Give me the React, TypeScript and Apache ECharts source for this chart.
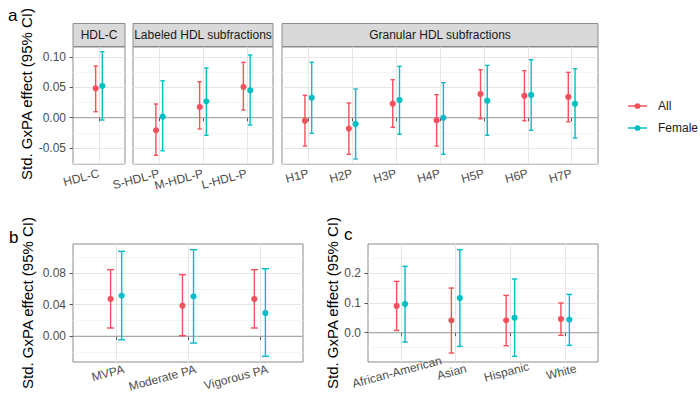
import React, { useEffect, useRef } from 'react';
import * as echarts from 'echarts';

const FONT = '"Liberation Sans", Arial, Helvetica, sans-serif';

const groups = ['All', 'Female'];
const groupColors = ['#F5515C', '#00BFC4'];

// Panel a
const stripLabels = ['HDL-C', 'Labeled HDL subfractions', 'Granular HDL subfractions'];
const catHDLC = ['HDL-C'];
const catLabeled = ['S-HDL-P', 'M-HDL-P', 'L-HDL-P'];
const catGranular = ['H1P', 'H2P', 'H3P', 'H4P', 'H5P', 'H6P', 'H7P'];

// [estimate, lower 95% CI, upper 95% CI]
const hdlcAll = [[0.0485, 0.0099, 0.0853]];
const hdlcFemale = [[0.0523, -0.0038, 0.109]];
const labeledAll = [
  [-0.0192, -0.062, 0.0226],
  [0.0193, -0.0186, 0.0594],
  [0.0523, 0.0127, 0.0914],
];
const labeledFemale = [
  [0.0033, -0.0545, 0.061],
  [0.027, -0.029, 0.082],
  [0.0468, -0.012, 0.1035],
];
const granularAll = [
  [-0.005, -0.0467, 0.037],
  [-0.018, -0.0604, 0.0243],
  [0.0231, -0.0159, 0.0627],
  [-0.0043, -0.0467, 0.038],
  [0.0391, -0.0017, 0.0792],
  [0.0363, -0.005, 0.0776],
  [0.0342, -0.0066, 0.0749],
];
const granularFemale = [
  [0.033, -0.0258, 0.0914],
  [-0.0104, -0.0682, 0.0474],
  [0.0292, -0.0274, 0.0848],
  [0.0, -0.0604, 0.0578],
  [0.028, -0.029, 0.0864],
  [0.0374, -0.0208, 0.0957],
  [0.0231, -0.0335, 0.0809],
];

// Panel b
const paCats = ['MVPA', 'Moderate PA', 'Vigorous PA'];
const paAll = [
  [0.0472, 0.0106, 0.0842],
  [0.0387, 0.0009, 0.0779],
  [0.0472, 0.0106, 0.0842],
];
const paFemale = [
  [0.0514, -0.0042, 0.1073],
  [0.0505, -0.0084, 0.1094],
  [0.0295, -0.0252, 0.0854],
];

// Panel c
const raceCats = ['African-American', 'Asian', 'Hispanic', 'White'];
const raceAll = [
  [0.0899, 0.0078, 0.1727],
  [0.0415, -0.0685, 0.1504],
  [0.0415, -0.0438, 0.1256],
  [0.046, -0.009, 0.1],
];
const raceFemale = [
  [0.0966, -0.0314, 0.2233],
  [0.1167, -0.046, 0.2795],
  [0.0505, -0.0797, 0.1808],
  [0.0438, -0.0427, 0.129],
];

const yTicksA = [-0.05, 0, 0.05, 0.1];
const yTicksB = [0, 0.04, 0.08];
const yTicksC = [0, 0.1, 0.2];

const yTitle = 'Std. GxPA effect (95% CI)';
const panelTags = ['a', 'b', 'c'];

const DODGE = 0.077;
const CAP = 0.1;

const LEGEND_ICON =
  'path://M0,2.3 L20,2.3 L20,3.7 L0,3.7 Z M13,3 A3,3 0 1,1 7,3 A3,3 0 1,1 13,3 Z';

type Panel = {
  cats: string[];
  all: number[][];
  female: number[][];
  grid: { left: number; top: number; width: number; height: number };
  yRange: [number, number];
  yTicks: number[];
  step: number;
  dec: number;
  showY: boolean;
  title?: boolean;
  nameGap?: number;
  namePad?: number;
  xAlign: string;
  xPad: number[];
};

const panels: Panel[] = [
  { cats: catHDLC, all: hdlcAll, female: hdlcFemale, grid: { left: 73, top: 47, width: 52, height: 117 }, yRange: [-0.0764, 0.1167], yTicks: yTicksA, step: 0.05, dec: 2, showY: true, title: true, nameGap: 39, namePad: 23, xAlign: 'right', xPad: [0, 0, 0, 0] },
  { cats: catLabeled, all: labeledAll, female: labeledFemale, grid: { left: 133, top: 47, width: 140, height: 117 }, yRange: [-0.0764, 0.1167], yTicks: yTicksA, step: 0.05, dec: 2, showY: false, xAlign: 'right', xPad: [0, 0, 0, 0] },
  { cats: catGranular, all: granularAll, female: granularFemale, grid: { left: 282, top: 47, width: 316, height: 117 }, yRange: [-0.0764, 0.1167], yTicks: yTicksA, step: 0.05, dec: 2, showY: false, xAlign: 'right', xPad: [0, 0, 0, 0] },
  { cats: paCats, all: paAll, female: paFemale, grid: { left: 73, top: 244, width: 230, height: 118 }, yRange: [-0.0323, 0.1166], yTicks: yTicksB, step: 0.04, dec: 2, showY: true, title: true, nameGap: 38, namePad: 0, xAlign: 'right', xPad: [0, -8, 0, 0] },
  { cats: raceCats, all: raceAll, female: raceFemale, grid: { left: 368, top: 244, width: 230, height: 118 }, yRange: [-0.0987, 0.2987], yTicks: yTicksC, step: 0.1, dec: 1, showY: true, title: true, nameGap: 7, namePad: 0, xAlign: 'center', xPad: [0, 8, 0, 0] },
];

const isMultiple = (v: number, step: number) => Math.abs(v / step - Math.round(v / step)) < 1e-6;

function renderErrorBar(color: string) {
  return (params: any, api: any) => {
    const x = api.value(0);
    const m = api.value(1);
    const lo = api.value(2);
    const hi = api.value(3);
    const pLo = api.coord([x, lo]);
    const pHi = api.coord([x, hi]);
    const pM = api.coord([x, m]);
    const half = api.size([CAP, 0])[0] / 2;
    const ls = { stroke: color, lineWidth: 1.4 };
    return {
      type: 'group',
      children: [
        { type: 'line', shape: { x1: pLo[0], y1: pLo[1], x2: pHi[0], y2: pHi[1] }, style: ls },
        { type: 'line', shape: { x1: pHi[0] - half, y1: pHi[1], x2: pHi[0] + half, y2: pHi[1] }, style: ls },
        { type: 'line', shape: { x1: pLo[0] - half, y1: pLo[1], x2: pLo[0] + half, y2: pLo[1] }, style: ls },
        { type: 'circle', shape: { cx: pM[0], cy: pM[1], r: 3.1 }, style: { fill: color } },
      ],
    };
  };
}

function buildOption() {
  const grid: any[] = [];
  const xAxis: any[] = [];
  const yAxis: any[] = [];
  const series: any[] = [];
  const graphic: any[] = [];

  panels.forEach((p, i) => {
    const n = p.cats.length;
    const positions = p.cats.map((_, k) => k + 1);
    grid.push({ ...p.grid, show: true, borderColor: '#8C8C8C', borderWidth: 1, backgroundColor: '#FFFFFF', containLabel: false });

    const labelStyle = (vals: number[]) => ({
      customValues: vals,
      showMinLabel: true,
      showMaxLabel: true,
      hideOverlap: false,
      rotate: 15,
      margin: 9,
      align: p.xAlign,
      padding: p.xPad,
      fontSize: 12,
      fontFamily: FONT,
      color: '#4D4D4D',
      formatter: (v: number) => (isMultiple(v, 1) ? p.cats[Math.round(v) - 1] ?? '' : ''),
    });
    // odd-positioned labels (with ticks and grid lines); the series use this axis
    const mainIndex = xAxis.length;
    xAxis.push({
      type: 'value',
      gridIndex: i,
      position: 'bottom',
      min: 0.4,
      max: n + 0.6,
      minInterval: 1,
      maxInterval: 1,
      axisLine: { show: false },
      axisTick: { show: true, length: 3.5, customValues: positions, lineStyle: { color: '#555555', width: 1 } },
      axisLabel: labelStyle(positions.filter((v) => v % 2 === 1)),
      splitLine: { show: true, lineStyle: { color: '#E6E6E6', width: 1 } },
    });
    const even = positions.filter((v) => v % 2 === 0);
    if (even.length) {
      xAxis.push({
        type: 'value',
        gridIndex: i,
        position: 'bottom',
        offset: 0,
        min: 0.4,
        max: n + 0.6,
        minInterval: 1,
        maxInterval: 1,
        axisLine: { show: false },
        axisTick: { show: false },
        axisLabel: labelStyle(even),
        splitLine: { show: false },
      });
    }
    yAxis.push({
      type: 'value',
      gridIndex: i,
      min: p.yRange[0],
      max: p.yRange[1],
      minInterval: p.step,
      maxInterval: p.step,
      axisLine: { show: false },
      axisTick: { show: p.showY, length: 3.5, customValues: p.yTicks, lineStyle: { color: '#555555', width: 1 } },
      axisLabel: {
        show: p.showY,
        customValues: p.yTicks,
        showMinLabel: true,
        showMaxLabel: true,
        margin: 7,
        fontSize: 12,
        fontFamily: FONT,
        color: '#4D4D4D',
        formatter: (v: number) => (isMultiple(v, p.step) ? v.toFixed(p.dec) : ''),
      },
      splitLine: { show: true, lineStyle: { color: '#E6E6E6', width: 1 } },
      minorTick: { show: false, splitNumber: 2 },
      minorSplitLine: { show: true, lineStyle: { color: '#F1F1F1', width: 0.8 } },
      name: p.title ? yTitle : '',
      nameLocation: 'middle',
      nameRotate: 90,
      nameGap: p.nameGap ?? 30,
      nameTextStyle: { fontSize: 15, color: '#000000', fontFamily: FONT, padding: [0, 0, 0, p.namePad ?? 0] },
    });
    // zero reference line
    series.push({
      type: 'line',
      xAxisIndex: mainIndex,
      yAxisIndex: i,
      data: [[0.4, 0], [n + 0.6, 0]],
      symbol: 'none',
      silent: true,
      z: 1,
      lineStyle: { color: '#A9A9A9', width: 1.3 },
    });
    [p.all, p.female].forEach((vals, g) => {
      const off = g === 0 ? -DODGE : DODGE;
      series.push({
        type: 'custom',
        name: groups[g],
        xAxisIndex: mainIndex,
        yAxisIndex: i,
        z: 3,
        itemStyle: { color: groupColors[g] },
        encode: { x: 0, y: [1, 2, 3] },
        data: vals.map((r, k) => [k + 1 + off, r[0], r[1], r[2]]),
        renderItem: renderErrorBar(groupColors[g]),
      });
    });
  });

  // facet strips for panel a
  panels.slice(0, 3).forEach((p, i) => {
    graphic.push({
      type: 'rect',
      shape: { x: p.grid.left, y: 23.5, width: p.grid.width, height: 23 },
      style: { fill: '#D9D9D9', stroke: '#8C8C8C', lineWidth: 1 },
      z: 10,
    });
    graphic.push({
      type: 'text',
      x: p.grid.left + p.grid.width / 2,
      y: 35,
      style: { text: stripLabels[i], fontSize: 12, fontFamily: FONT, fill: '#1A1A1A', align: 'center', verticalAlign: 'middle' },
      z: 11,
    });
  });

  const tagPos = [[8, 15], [9, 237], [344, 234]];
  panelTags.forEach((t, i) => {
    graphic.push({
      type: 'text',
      x: tagPos[i][0],
      y: tagPos[i][1],
      style: { text: t, fontSize: 17, fontFamily: FONT, fill: '#000000', align: 'left', verticalAlign: 'middle' },
      z: 12,
    });
  });

  return {
    animation: false,
    backgroundColor: '#FFFFFF',
    grid,
    xAxis,
    yAxis,
    series,
    graphic,
    legend: {
      orient: 'vertical',
      left: 623,
      top: 95,
      itemWidth: 19,
      itemHeight: 14,
      itemGap: 10,
      data: groups.map((g) => ({ name: g, icon: LEGEND_ICON })),
      textStyle: { fontSize: 12, fontFamily: FONT, color: '#1A1A1A', padding: [0, 0, 0, 6] },
    },
  };
}

export default function App() {
  const ref = useRef<HTMLDivElement>(null);
  useEffect(() => {
    if (!ref.current) return;
    const chart = echarts.init(ref.current, undefined, { renderer: 'svg' });
    chart.setOption(buildOption() as any);
    return () => chart.dispose();
  }, []);
  return <div ref={ref} style={{ width: 700, height: 404, position: 'absolute', left: 0, top: 0 }} />;
}
